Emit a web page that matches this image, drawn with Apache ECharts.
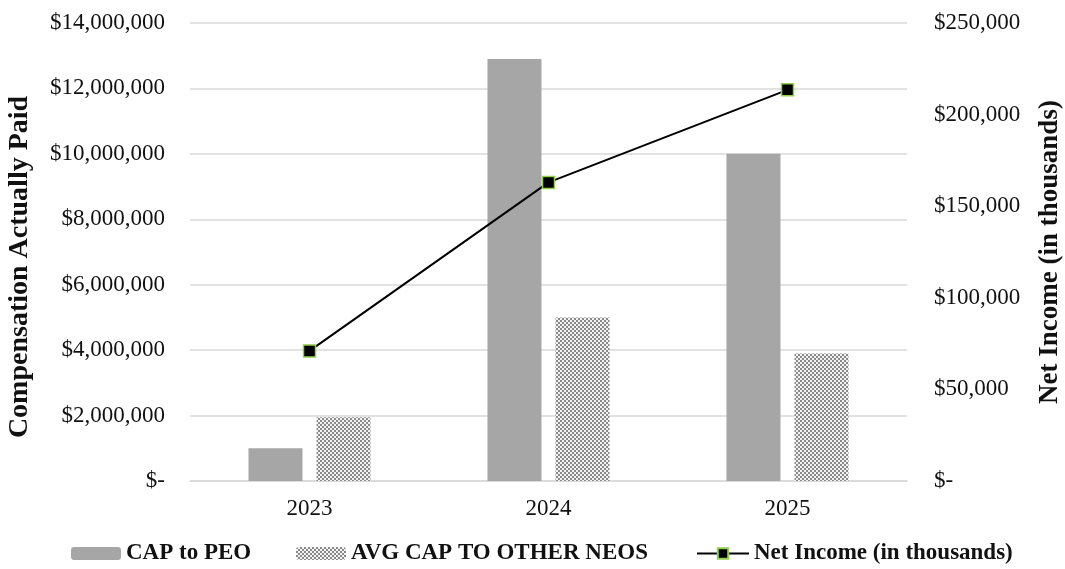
<!DOCTYPE html>
<html>
<head>
<meta charset="utf-8">
<script src="https://cdn.jsdelivr.net/npm/echarts@6/dist/echarts.min.js"></script>
<style>
  html, body { margin: 0; padding: 0; background: #fff; }
  #chart { width: 1065px; height: 569px; }
</style>
</head>
<body>
<div id="chart"></div>
<script>
const years = ['2023', '2024', '2025'];
const capToPeo = [1000000, 12900000, 10000000];
const avgCapOtherNeos = [1950000, 5000000, 3900000];
const netIncome = [71000, 163000, 213500];
const leftTicks = { min: 0, max: 14000000, interval: 2000000 };
const rightTicks = { min: 0, max: 250000, interval: 50000 };

function money(v) {
  if (v === 0) return '$-';
  return '$' + String(Math.round(v)).replace(/\B(?=(\d{3})+(?!\d))/g, ',');
}

// checkerboard hatch pattern
const pc = document.createElement('canvas');
pc.width = 4; pc.height = 4;
const px = pc.getContext('2d');
px.fillStyle = '#f2f2f2'; px.fillRect(0, 0, 4, 4);
px.fillStyle = '#8a8a8a'; px.fillRect(0, 0, 2, 2); px.fillRect(2, 2, 2, 2);

const serif = '"Liberation Serif", "DejaVu Serif", serif';
const chart = echarts.init(document.getElementById('chart'), null, { renderer: 'canvas' });

const legendText = { fontFamily: serif, fontSize: 23, fontWeight: 'bold', color: '#111' };

chart.setOption({
  animation: false,
  backgroundColor: '#ffffff',
  grid: { left: 190, right: 158, top: 23, bottom: 88, containLabel: false, outerBoundsMode: 'none' },
  legend: [
    { data: ['CAP to PEO'], left: 66, top: 537, itemWidth: 50, itemHeight: 13, itemGap: 5, textStyle: legendText },
    { data: ['AVG CAP TO OTHER NEOS'], left: 291, top: 537, itemWidth: 50, itemHeight: 13, textStyle: legendText },
    { data: ['Net Income (in thousands)'], left: 691, top: 537, itemWidth: 52, itemHeight: 13, textStyle: legendText }
  ],
  xAxis: {
    type: 'category',
    data: years,
    axisLine: { show: true, lineStyle: { color: '#d9d9d9', width: 1.5 } },
    axisTick: { show: false },
    axisLabel: { fontFamily: serif, fontSize: 23, color: '#111', margin: 16 }
  },
  yAxis: [
    {
      type: 'value',
      min: leftTicks.min, max: leftTicks.max, interval: leftTicks.interval,
      name: 'Compensation Actually Paid',
      nameLocation: 'middle', nameRotate: 90, nameGap: 156,
      nameTextStyle: { fontFamily: serif, fontSize: 28, fontWeight: 'bold', color: '#111', padding: [0, 30, 0, 0] },
      axisLine: { show: false }, axisTick: { show: false },
      splitLine: { lineStyle: { color: '#d9d9d9', width: 1.5 } },
      axisLabel: { fontFamily: serif, fontSize: 23, color: '#111', margin: 25, formatter: money }
    },
    {
      type: 'value',
      min: rightTicks.min, max: rightTicks.max, interval: rightTicks.interval,
      name: 'Net Income (in thousands)',
      nameLocation: 'middle', nameRotate: 90, nameGap: 130,
      nameTextStyle: { fontFamily: serif, fontSize: 27, fontWeight: 'bold', color: '#111' },
      axisLine: { show: false }, axisTick: { show: false },
      splitLine: { show: false },
      axisLabel: { fontFamily: serif, fontSize: 23, color: '#111', margin: 27, formatter: money }
    }
  ],
  series: [
    {
      name: 'CAP to PEO',
      type: 'bar',
      data: capToPeo,
      barWidth: 54,
      barGap: '26%',
      itemStyle: { color: '#a6a6a6' }
    },
    {
      name: 'AVG CAP TO OTHER NEOS',
      type: 'bar',
      data: avgCapOtherNeos,
      barWidth: 54,
      barGap: '26%',
      itemStyle: { color: { image: pc, repeat: 'repeat' } }
    },
    {
      name: 'Net Income (in thousands)',
      type: 'line',
      yAxisIndex: 1,
      data: netIncome,
      symbol: 'rect',
      symbolSize: 12,
      lineStyle: { color: '#000', width: 2 },
      itemStyle: { color: '#000', borderColor: '#92d050', borderWidth: 1.5 },
      z: 5
    }
  ]
});
</script>
</body>
</html>
